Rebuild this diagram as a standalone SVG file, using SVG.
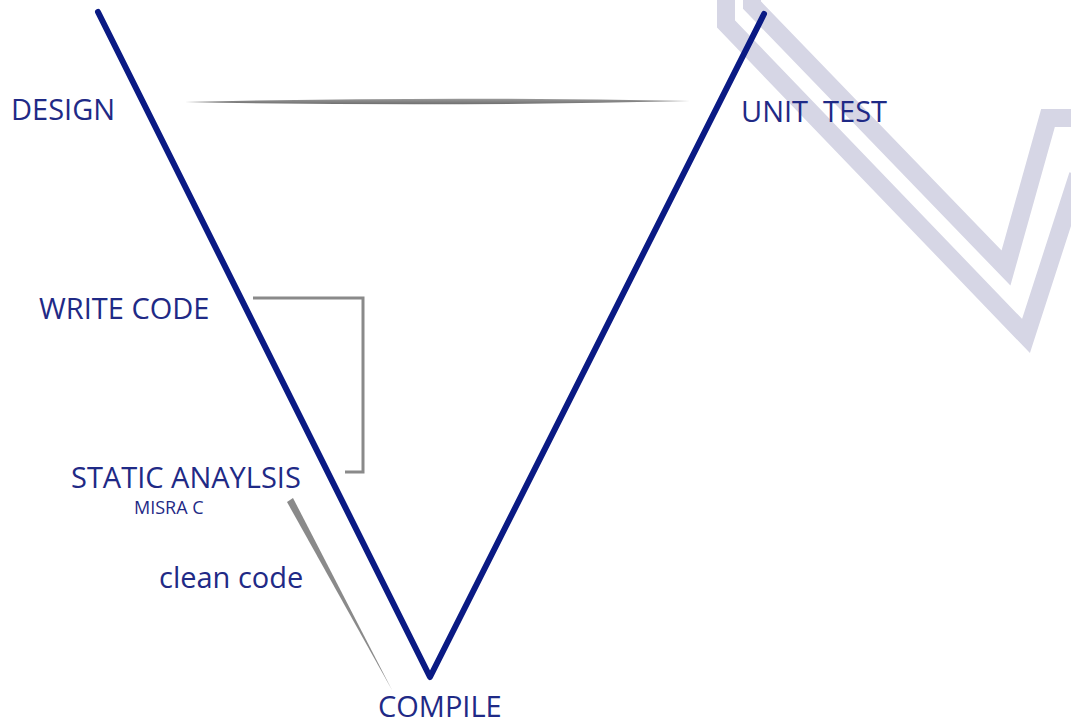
<svg xmlns="http://www.w3.org/2000/svg" width="1071" height="724" viewBox="0 0 1071 724">
<style>
.lbl{font-family:"Open Sans","Liberation Sans",sans-serif;fill:#1f2a86;font-size:29px}
.wm{fill:none;stroke:#d6d6e5;stroke-width:18;stroke-linejoin:miter;stroke-miterlimit:10}
.vline{fill:none;stroke:#0a1a84;stroke-width:6;stroke-linecap:round;stroke-linejoin:round}
.grey{fill:none;stroke:#8a8a8a;stroke-width:3}
</style>
<defs>
<linearGradient id="hg" x1="0" y1="0" x2="0" y2="1">
<stop offset="0" stop-color="#9a9a9a"/>
<stop offset="1" stop-color="#6e6e6e"/>
</linearGradient>
</defs>
<rect width="1071" height="724" fill="#ffffff"/>
<g id="watermark">
<polyline class="wm" points="726,-10 726,24 1026,336 1078,175"/>
<polyline class="wm" points="752,-10 752,5 1006,268 1048,118 1080,118"/>
</g>
<g id="v-shape">
<polyline class="vline" points="98,12 430,677 764,14"/>
</g>
<g id="connectors">
<path d="M185,102 Q437,96 690,101 Q437,107 185,102 Z" fill="url(#hg)"/>
<polyline class="grey" points="253,298 363,298 363,472 345,472"/>
<path d="M287,502 L293,498 L392,690 Z" fill="#8a8a8a"/>
</g>
<g id="design"><text class="lbl" x="11" y="120">DESIGN</text></g>
<g id="unit-test"><text class="lbl" x="741" y="122" xml:space="preserve">UNIT  TEST</text></g>
<g id="write-code"><text class="lbl" x="39" y="319">WRITE CODE</text></g>
<g id="static-analysis"><text class="lbl" x="71" y="488">STATIC ANAYLSIS</text>
<text class="lbl" x="134" y="514" style="font-size:18px">MISRA C</text></g>
<g id="clean-code"><text class="lbl" x="159" y="588">clean code</text></g>
<g id="compile"><text class="lbl" x="378" y="717">COMPILE</text></g>
</svg>
